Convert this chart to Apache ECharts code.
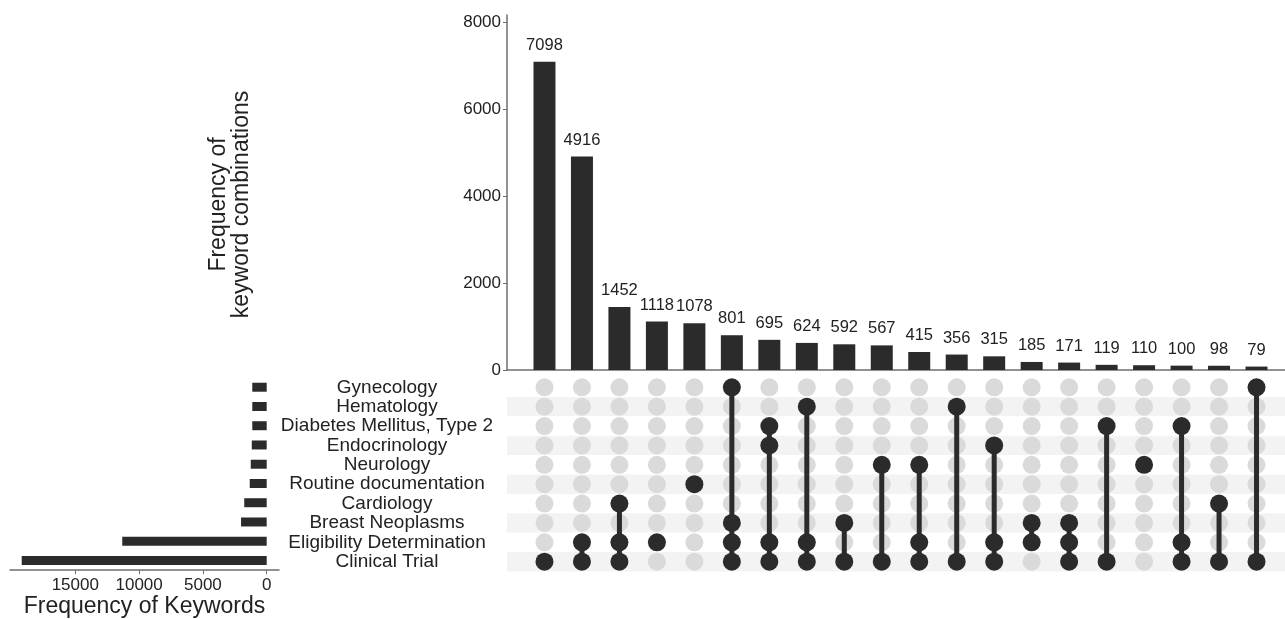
<!DOCTYPE html>
<html>
<head>
<meta charset="utf-8">
<script src="https://cdn.jsdelivr.net/npm/echarts@6/dist/echarts.min.js"></script>
<style>
  html, body { margin: 0; padding: 0; background: #ffffff; }
  #chart { width: 1285px; height: 619px; }
</style>
</head>
<body>
<div id="chart"></div>
<script>
// ---- data ----
const sets = [
  'Gynecology', 'Hematology', 'Diabetes Mellitus, Type 2', 'Endocrinology', 'Neurology',
  'Routine documentation', 'Cardiology', 'Breast Neoplasms', 'Eligibility Determination', 'Clinical Trial'
];
const setSizes = [1130, 1130, 1130, 1170, 1250, 1330, 1760, 2010, 11320, 19200];

const comboSizes = [7098, 4916, 1452, 1118, 1078, 801, 695, 624, 592, 567,
                    415, 356, 315, 185, 171, 119, 110, 100, 98, 79];
// members of each combination, as indices into `sets`
const comboSets = [
  [9], [8, 9], [6, 8, 9], [8], [5], [0, 7, 8, 9], [2, 3, 8, 9], [1, 8, 9], [7, 9], [4, 9],
  [4, 8, 9], [1, 9], [3, 8, 9], [7, 8], [7, 8, 9], [2, 9], [4], [2, 8, 9], [6, 9], [0, 9]
];

const comboTicks = [0, 2000, 4000, 6000, 8000];
const setTicks = [0, 5000, 10000, 15000];

// ---- derived ----
const barData = comboSizes.map((v, i) => [i, v]);
const inactive = [], active = [], links = [];
comboSets.forEach((members, i) => {
  sets.forEach((s, j) => {
    (members.includes(j) ? active : inactive).push([i, j]);
  });
  if (members.length > 1) links.push([i, Math.min(...members), Math.max(...members)]);
});

const FONT = '"Liberation Sans", Arial, Helvetica, sans-serif';
const TXT = '#222222';
const AX = '#6e6e6e';
const DARK = '#2b2b2b';
const plain = v => String(v);

const chart = echarts.init(document.getElementById('chart'));
chart.setOption({
  animation: false,
  backgroundColor: '#ffffff',
  textStyle: { fontFamily: FONT },
  grid: [
    { left: 507, right: 0, top: 15, bottom: 249 },
    { left: 507, right: 0, top: 377.6, bottom: 47.6 },
    { left: 10, right: 1006, top: 377.6, bottom: 47.6 }
  ],
  xAxis: [
    { type: 'value', gridIndex: 0, min: -1, max: 19.76,
      axisLine: { show: true, onZero: false, lineStyle: { color: AX, width: 1.5 } },
      axisTick: { show: false }, axisLabel: { show: false }, splitLine: { show: false } },
    { type: 'value', gridIndex: 1, min: -1, max: 19.76, show: false, splitLine: { show: false } },
    { type: 'value', gridIndex: 2, inverse: true, min: -964, max: 20118,
      axisLine: { show: true, onZero: false, lineStyle: { color: AX, width: 1.5 } },
      axisTick: { show: true, length: 4, customValues: setTicks, lineStyle: { color: AX } },
      axisLabel: { customValues: setTicks, formatter: plain, fontSize: 17, color: TXT, margin: 7, fontFamily: FONT },
      splitLine: { show: false },
      name: 'Frequency of Keywords', nameLocation: 'middle', nameGap: 22,
      nameTextStyle: { fontSize: 23, color: TXT, fontFamily: FONT } }
  ],
  yAxis: [
    { type: 'value', gridIndex: 0, min: 0, max: 8177,
      axisLine: { show: true, onZero: false, lineStyle: { color: AX, width: 1.5 } },
      axisTick: { show: true, length: 4, customValues: comboTicks, lineStyle: { color: AX } },
      axisLabel: { customValues: comboTicks, formatter: plain, fontSize: 17, color: TXT, margin: 6, fontFamily: FONT },
      splitLine: { show: false },
      name: 'Frequency of\nkeyword combinations', nameLocation: 'middle', nameGap: 254,
      nameTextStyle: { fontSize: 23, lineHeight: 23, color: TXT, fontFamily: FONT, padding: [0, 24, 0, 0] } },
    { type: 'category', gridIndex: 1, data: sets, inverse: true,
      axisLine: { show: false }, axisTick: { show: false },
      axisLabel: { interval: 0, align: 'center', margin: 120, fontSize: 19, color: TXT, fontFamily: FONT },
      splitLine: { show: false },
      splitArea: { show: true, interval: 0, areaStyle: { color: ['#ffffff', '#f3f3f3'] } } },
    { type: 'category', gridIndex: 2, data: sets, inverse: true, show: false }
  ],
  series: [
    { type: 'bar', xAxisIndex: 0, yAxisIndex: 0, data: barData, barWidth: 22,
      itemStyle: { color: DARK },
      label: { show: true, position: 'top', distance: 8, fontSize: 16.5, color: TXT, fontFamily: FONT } },
    { type: 'scatter', xAxisIndex: 1, yAxisIndex: 1, data: inactive, symbol: 'circle', symbolSize: 18,
      itemStyle: { color: '#dadada', opacity: 1 }, z: 2, silent: true },
    { type: 'custom', xAxisIndex: 1, yAxisIndex: 1, data: links, z: 3, silent: true,
      encode: { x: 0, y: [1, 2] },
      renderItem: function (params, api) {
        const x = api.value(0);
        const a = api.coord([x, api.value(1)]);
        const b = api.coord([x, api.value(2)]);
        return { type: 'line', shape: { x1: a[0], y1: a[1], x2: b[0], y2: b[1] },
                 style: { stroke: DARK, lineWidth: 5 } };
      } },
    { type: 'scatter', xAxisIndex: 1, yAxisIndex: 1, data: active, symbol: 'circle', symbolSize: 18,
      itemStyle: { color: DARK, opacity: 1 }, z: 4, silent: true },
    { type: 'bar', xAxisIndex: 2, yAxisIndex: 2, data: setSizes, barWidth: 9,
      itemStyle: { color: DARK } }
  ]
});
</script>
</body>
</html>
